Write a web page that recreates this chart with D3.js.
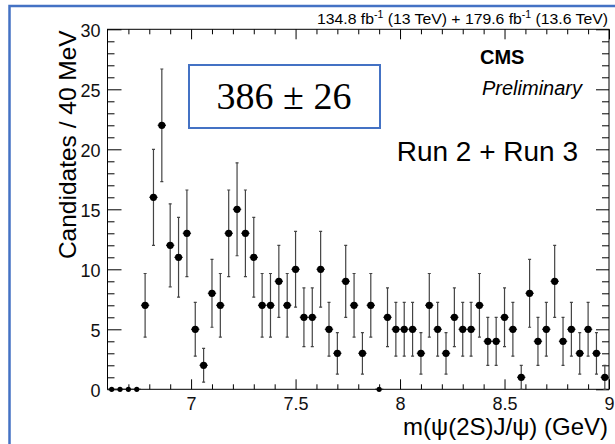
<!DOCTYPE html>
<html>
<head>
<meta charset="utf-8">
<script src="https://cdn.jsdelivr.net/npm/d3@7"></script>
<style>
  body { margin: 0; background: #fff; }
  svg { display: block; font-family: "Liberation Sans", Arial, sans-serif; }
</style>
</head>
<body>
<script>
const [W, H] = [615, 444];
const PLOT = { left: 107.5, right: 609, top: 29.3, bottom: 389.3 };
const BLUE = '#4472c4';

// bin centres (GeV), 40 MeV bins from 6.6 to 9.0
const BIN_CENTERS = [
  6.62, 6.66, 6.70, 6.74, 6.78, 6.82, 6.86, 6.90, 6.94, 6.98,
  7.02, 7.06, 7.10, 7.14, 7.18, 7.22, 7.26, 7.30, 7.34, 7.38,
  7.42, 7.46, 7.50, 7.54, 7.58, 7.62, 7.66, 7.70, 7.74, 7.78,
  7.82, 7.86, 7.90, 7.94, 7.98, 8.02, 8.06, 8.10, 8.14, 8.18,
  8.22, 8.26, 8.30, 8.34, 8.38, 8.42, 8.46, 8.50, 8.54, 8.58,
  8.62, 8.66, 8.70, 8.74, 8.78, 8.82, 8.86, 8.90, 8.94, 8.98
];
const BIN_HALF = 0.02;

// candidates per bin
const COUNTS = [
  0, 0, 0, 0, 7, 16, 22, 12, 11, 13,
  5, 2, 8, 7, 13, 15, 13, 11, 7, 7,
  9, 7, 10, 6, 6, 10, 5, 3, 9, 7,
  3, 7, 0, 6, 5, 5, 5, 3, 7, 5,
  3, 6, 5, 5, 7, 4, 4, 6, 5, 1,
  8, 4, 5, 9, 4, 5, 3, 5, 3, 1
];

// symmetric error per bin
const ERRORS = [
  0, 0, 0, 0, 2.65, 4, 4.69, 3.46, 3.32, 3.61,
  2.24, 1.41, 2.83, 2.65, 3.61, 3.87, 3.61, 3.32, 2.65, 2.65,
  3, 2.65, 3.16, 2.45, 2.45, 3.16, 2.24, 1.73, 3, 2.65,
  1.73, 2.65, 0, 2.45, 2.24, 2.24, 2.24, 1.73, 2.65, 2.24,
  1.73, 2.45, 2.24, 2.24, 2.65, 2, 2, 2.45, 2.24, 1,
  2.83, 2, 2.24, 3, 2, 2.24, 1.73, 2.24, 1.73, 1
];

const X_MAJOR = [7, 7.5, 8, 8.5, 9];
const X_MINOR = [6.7, 6.8, 6.9, 7.1, 7.2, 7.3, 7.4, 7.6, 7.7, 7.8, 7.9, 8.1, 8.2, 8.3, 8.4, 8.6, 8.7, 8.8, 8.9];
const Y_MAJOR = [0, 5, 10, 15, 20, 25, 30];
const Y_MINOR = [1, 2, 3, 4, 6, 7, 8, 9, 11, 12, 13, 14, 16, 17, 18, 19, 21, 22, 23, 24, 26, 27, 28, 29];

const svg = d3.select('body').append('svg').attr('width', W).attr('height', H);

// outer blue frame (cropped on right/bottom)
svg.append('rect')
    .attr('x', 9.5).attr('y', 6)
    .attr('width', W + 10).attr('height', H + 10)
    .attr('fill', 'none').attr('stroke', BLUE).attr('stroke-width', 2.5);

const x = d3.scaleLinear().domain([6.6, 9.0]).range([PLOT.left, PLOT.right]);
const y = d3.scaleLinear().domain([0, 30]).range([PLOT.bottom, PLOT.top]);

// axes: ticks point inward, mirrored on top/right
const axisStyle = g => {
    g.select('.domain').remove();
    g.selectAll('line').attr('stroke', '#000').attr('stroke-width', 1);
    g.selectAll('text').attr('font-size', 18).attr('fill', '#111').attr('font-family', '"Liberation Sans", Arial, sans-serif');
};

svg.append('g').attr('transform', `translate(0,${PLOT.bottom})`)
    .call(d3.axisBottom(x).tickValues(X_MAJOR).tickSize(-10).tickPadding(8).tickFormat(d3.format('')))
    .call(axisStyle);
svg.append('g').attr('transform', `translate(0,${PLOT.bottom})`)
    .call(d3.axisBottom(x).tickValues(X_MINOR).tickSize(-5).tickFormat(''))
    .call(axisStyle);
svg.append('g').attr('transform', `translate(0,${PLOT.top})`)
    .call(d3.axisTop(x).tickValues(X_MAJOR).tickSize(-10).tickFormat(''))
    .call(axisStyle);
svg.append('g').attr('transform', `translate(0,${PLOT.top})`)
    .call(d3.axisTop(x).tickValues(X_MINOR).tickSize(-5).tickFormat(''))
    .call(axisStyle);

svg.append('g').attr('transform', `translate(${PLOT.left},0)`)
    .call(d3.axisLeft(y).tickValues(Y_MAJOR).tickSize(-14).tickPadding(7))
    .call(axisStyle)
    .selectAll('text').attr('dy', '0.4em');
svg.append('g').attr('transform', `translate(${PLOT.left},0)`)
    .call(d3.axisLeft(y).tickValues(Y_MINOR).tickSize(-7).tickFormat(''))
    .call(axisStyle);
svg.append('g').attr('transform', `translate(${PLOT.right},0)`)
    .call(d3.axisRight(y).tickValues(Y_MAJOR).tickSize(-13).tickFormat(''))
    .call(axisStyle);
svg.append('g').attr('transform', `translate(${PLOT.right},0)`)
    .call(d3.axisRight(y).tickValues(Y_MINOR).tickSize(-7).tickFormat(''))
    .call(axisStyle);

// frame
svg.append('rect')
    .attr('x', PLOT.left).attr('y', PLOT.top)
    .attr('width', PLOT.right - PLOT.left).attr('height', PLOT.bottom - PLOT.top)
    .attr('fill', 'none').attr('stroke', '#000').attr('stroke-width', 1);

// data points
const points = BIN_CENTERS.map((c, i) => ({ c, n: COUNTS[i], e: ERRORS[i] }));
const pts = svg.append('g').selectAll('g').data(points).enter().append('g');

pts.filter(d => d.e > 0).append('line')
    .attr('x1', d => x(d.c)).attr('x2', d => x(d.c))
    .attr('y1', d => y(d.n - d.e)).attr('y2', d => y(d.n + d.e))
    .attr('stroke', '#444').attr('stroke-width', 1.2);
pts.filter(d => d.e > 0).append('path')
    .attr('d', d => `M${x(d.c) - 1.5},${y(d.n + d.e)}h3M${x(d.c) - 1.5},${y(d.n - d.e)}h3`)
    .attr('stroke', '#444').attr('stroke-width', 1.2);
pts.append('line')
    .attr('x1', d => x(d.c - BIN_HALF)).attr('x2', d => x(d.c + BIN_HALF))
    .attr('y1', d => y(d.n)).attr('y2', d => y(d.n))
    .attr('stroke', '#222').attr('stroke-width', 1.2);
pts.append('circle')
    .attr('cx', d => x(d.c)).attr('cy', d => y(d.n))
    .attr('r', d => d.n === 0 ? 2.6 : 3.6)
    .attr('fill', '#000');

// axis titles
svg.append('text')
    .attr('text-anchor', 'end')
    .attr('transform', `translate(76,${PLOT.top + 1}) rotate(-90)`)
    .attr('font-size', 24.5)
    .text('Candidates / 40 MeV');

svg.append('text')
    .attr('text-anchor', 'end')
    .attr('x', 608).attr('y', 435)
    .attr('font-size', 24)
    .text('m(ψ(2S)J/ψ) (GeV)');

// lumi label
const lumi = svg.append('text')
    .attr('text-anchor', 'end')
    .attr('x', 608).attr('y', 24)
    .attr('font-size', 15)
    .attr('textLength', 291)
    .attr('lengthAdjust', 'spacingAndGlyphs');
lumi.append('tspan').text('134.8 fb');
lumi.append('tspan').attr('font-size', 10).attr('dy', -6).text('-1');
lumi.append('tspan').attr('dy', 6).text(' (13 TeV) + 179.6 fb');
lumi.append('tspan').attr('font-size', 10).attr('dy', -6).text('-1');
lumi.append('tspan').attr('dy', 6).text(' (13.6 TeV)');

// CMS Preliminary
svg.append('text')
    .attr('x', 480).attr('y', 64)
    .attr('font-size', 20).attr('font-weight', 'bold')
    .text('CMS');
svg.append('text')
    .attr('x', 482).attr('y', 95)
    .attr('font-size', 20).attr('font-style', 'italic')
    .text('Preliminary');

svg.append('text')
    .attr('text-anchor', 'end')
    .attr('x', 578).attr('y', 161)
    .attr('font-size', 28)
    .text('Run 2 + Run 3');

// yield box
svg.append('rect')
    .attr('x', 189).attr('y', 65)
    .attr('width', 191).attr('height', 63)
    .attr('fill', '#fff').attr('stroke', BLUE).attr('stroke-width', 2);
svg.append('text')
    .attr('text-anchor', 'middle')
    .attr('x', 284).attr('y', 108.5)
    .attr('font-family', '"Liberation Serif", "DejaVu Serif", serif')
    .attr('font-size', 38)
    .text('386 ± 26');
</script>
</body>
</html>
